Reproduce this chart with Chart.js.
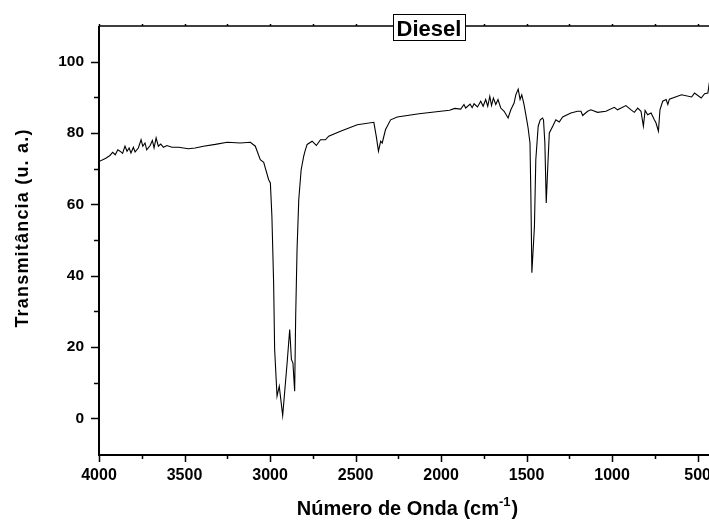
<!DOCTYPE html>
<html>
<head>
<meta charset="utf-8">
<script src="https://cdn.jsdelivr.net/npm/chart.js@4.4.1/dist/chart.umd.min.js"></script>
<style>
  html, body { margin: 0; padding: 0; background: #fff; overflow: hidden; }
  #wrap { width: 723px; height: 520px; }
</style>
</head>
<body>
<div id="wrap"><canvas id="ir" width="723" height="520"></canvas></div>
<script>
// FTIR – Diesel (transmitância x número de onda)
const numeroOnda = [
  4000, 3960, 3936, 3920, 3905, 3890, 3877, 3862, 3848, 3836, 3824, 3813, 3799, 3789, 3770,
  3754, 3744, 3731, 3721, 3701, 3688, 3678, 3666, 3653, 3639, 3623, 3603, 3574, 3535, 3477,
  3438, 3389, 3320, 3250, 3174, 3115, 3086, 3057, 3037, 3008, 2998, 2989, 2979, 2973, 2963,
  2959, 2946, 2926, 2900, 2885, 2875, 2866, 2856, 2850, 2842, 2832, 2818, 2803, 2795, 2783,
  2754, 2729, 2705, 2676, 2657, 2588, 2490, 2393, 2379, 2366, 2353, 2344, 2325, 2295, 2256,
  2129, 2002, 1950, 1920, 1885, 1866, 1856, 1830, 1818, 1807, 1787, 1768, 1754, 1739, 1727,
  1715, 1705, 1694, 1680, 1667, 1651, 1631, 1608, 1592, 1573, 1563, 1549, 1538, 1528, 1515,
  1499, 1491, 1480, 1475, 1469, 1454, 1446, 1432, 1420, 1407, 1401, 1393, 1385, 1376, 1367,
  1347, 1329, 1309, 1289, 1241, 1202, 1182, 1172, 1143, 1124, 1085, 1036, 987, 968, 919,
  889, 870, 850, 831, 817, 807, 792, 772, 753, 743, 729, 720, 704, 684, 674,
  665, 594, 535, 518, 479, 459, 440, 431
];
const transmitancia = [
  72.0, 72.9, 73.7, 74.6, 73.9, 75.3, 74.9, 74.3, 76.3, 74.9, 75.8, 74.4, 76.0, 74.7, 75.8,
  78.1, 76.3, 77.2, 75.3, 76.5, 77.9, 75.8, 78.6, 76.3, 76.9, 76.0, 76.5, 76.0, 76.0, 75.6,
  75.8, 76.3, 76.8, 77.4, 77.2, 77.4, 76.3, 72.5, 71.8, 66.9, 66.0, 56.6, 38.0, 19.3, 9.9,
  6.2, 9.0, 0.8, 15.6, 24.9, 16.5, 15.5, 7.6, 28.6, 47.3, 61.3, 69.7, 73.5, 75.0, 76.8,
  77.7, 76.5, 78.1, 78.1, 79.1, 80.5, 82.3, 83.0, 79.1, 74.9, 77.7, 77.2, 80.9, 83.7, 84.5,
  85.4, 86.1, 86.4, 86.9, 86.7, 88.0, 87.0, 88.1, 87.1, 88.2, 87.3, 88.9, 87.5, 89.4, 87.5,
  90.3, 87.7, 89.8, 88.0, 89.4, 87.0, 86.1, 84.2, 86.5, 88.4, 90.7, 92.3, 89.4, 90.7, 88.0,
  83.7, 81.4, 77.2, 63.2, 40.8, 53.8, 72.5, 81.9, 83.7, 84.2, 83.7, 77.2, 60.4, 70.6, 80.0,
  81.9, 83.7, 83.1, 84.5, 85.6, 86.1, 86.1, 84.9, 86.1, 86.5, 85.8, 86.1, 87.2, 86.5, 87.7,
  86.5, 85.8, 87.0, 86.1, 81.9, 86.3, 85.1, 85.6, 83.7, 82.8, 80.5, 86.5, 88.9, 89.4, 88.0,
  89.5, 90.7, 90.1, 91.2, 89.8, 91.0, 91.2, 94.2
];

const xTicks = [4000, 3750, 3500, 3250, 3000, 2750, 2500, 2250, 2000, 1750, 1500, 1250, 1000, 750, 500];
const yTicks = [-10, 0, 10, 20, 30, 40, 50, 60, 70, 80, 90, 100, 110];
const titulo = 'Diesel';
const tituloY = 'Transmitância (u. a.)';
const tituloX = 'Número de Onda (cm';

const FONT = '"Liberation Sans", Arial, Helvetica, sans-serif';

// moldura, marcas dos eixos e títulos (estilo Origin)
const moldura = {
  id: 'moldura',
  afterDraw(chart) {
    const { ctx, chartArea: a, scales: { x, y } } = chart;
    ctx.save();
    ctx.strokeStyle = '#000';
    ctx.lineCap = 'butt';

    // eixos
    ctx.lineWidth = 2;
    ctx.beginPath();
    ctx.moveTo(a.left, a.top); ctx.lineTo(a.left, a.bottom + 1); ctx.lineTo(a.right, a.bottom + 1);
    ctx.stroke();
    ctx.lineWidth = 1.5;
    ctx.beginPath();
    ctx.moveTo(a.left, a.top); ctx.lineTo(a.right, a.top); ctx.lineTo(a.right, a.bottom);
    ctx.stroke();

    // marcas
    ctx.lineWidth = 1.5;
    ctx.beginPath();
    xTicks.forEach(v => {
      const px = Math.round(x.getPixelForValue(v)) + 0.5;
      const len = v % 500 === 0 ? 8 : 5;
      ctx.moveTo(px, a.bottom); ctx.lineTo(px, a.bottom + len);
      ctx.moveTo(px, a.top); ctx.lineTo(px, a.top - 2);
    });
    yTicks.forEach(v => {
      if (v === -10 || v === 110) return;
      const py = Math.round(y.getPixelForValue(v)) + 0.5;
      const len = v % 20 === 0 ? 8 : 5;
      ctx.moveTo(a.left, py); ctx.lineTo(a.left - len, py);
    });
    ctx.stroke();

    // título em caixa
    ctx.font = 'bold 22px ' + FONT;
    ctx.textAlign = 'center';
    ctx.textBaseline = 'alphabetic';
    const cx = 429;
    const w = 72;
    ctx.fillStyle = '#fff';
    ctx.fillRect(cx - w / 2, 14, w, 27);
    ctx.lineWidth = 1;
    ctx.strokeRect(Math.round(cx - w / 2) + 0.5, 14.5, w, 26);
    ctx.fillStyle = '#000';
    ctx.fillText(titulo, cx, 36);

    // título do eixo y
    ctx.save();
    ctx.translate(28, 228);
    ctx.rotate(-Math.PI / 2);
    ctx.font = 'bold 18px ' + FONT;
    ctx.letterSpacing = '1.2px';
    ctx.fillText(tituloY, 0, 0);
    ctx.restore();

    // título do eixo x com expoente
    ctx.font = 'bold 20px ' + FONT;
    const sup = '-1', fim = ')';
    const w1 = ctx.measureText(tituloX).width;
    ctx.font = 'bold 13px ' + FONT;
    const w2 = ctx.measureText(sup).width;
    ctx.font = 'bold 20px ' + FONT;
    const w3 = ctx.measureText(fim).width;
    const sx = 407 - (w1 + w2 + w3) / 2;
    ctx.textAlign = 'left';
    ctx.fillText(tituloX, sx, 515);
    ctx.font = 'bold 13px ' + FONT;
    ctx.fillText(sup, sx + w1, 506);
    ctx.font = 'bold 20px ' + FONT;
    ctx.fillText(fim, sx + w1 + w2 + 1, 515);
    ctx.restore();
  }
};

new Chart(document.getElementById('ir'), {
  type: 'line',
  data: {
    datasets: [{
      data: numeroOnda.map((w, i) => ({ x: w, y: transmitancia[i] })),
      borderColor: '#000',
      borderWidth: 1.1,
      pointRadius: 0,
      tension: 0,
      fill: false
    }]
  },
  options: {
    responsive: false,
    animation: false,
    devicePixelRatio: 1,
    layout: { padding: { top: 26, right: 2, left: 0, bottom: 0 } },
    plugins: { legend: { display: false }, tooltip: { enabled: false } },
    scales: {
      x: {
        type: 'linear',
        reverse: true,
        min: 400,
        max: 4000,
        grid: { display: false, drawTicks: false },
        border: { display: false },
        afterBuildTicks: s => { s.ticks = xTicks.map(v => ({ value: v })); },
        afterFit: s => { s.height = 66; },
        ticks: {
          autoSkip: false,
          maxRotation: 0,
          padding: 12,
          color: '#000',
          font: { family: FONT, size: 16, weight: 'bold' },
          callback: v => (v % 500 === 0 ? String(v) : '')
        }
      },
      y: {
        min: -10,
        max: 110,
        grid: { display: false, drawTicks: false },
        border: { display: false },
        afterBuildTicks: s => { s.ticks = yTicks.map(v => ({ value: v })); },
        afterFit: s => { s.width = 99; },
        ticks: {
          autoSkip: false,
          padding: 15,
          color: '#000',
          font: { family: FONT, size: 15.5, weight: 'bold' },
          callback: v => (v >= 0 && v <= 100 && v % 20 === 0 ? String(v) : '')
        }
      }
    }
  },
  plugins: [moldura]
});
</script>
</body>
</html>
